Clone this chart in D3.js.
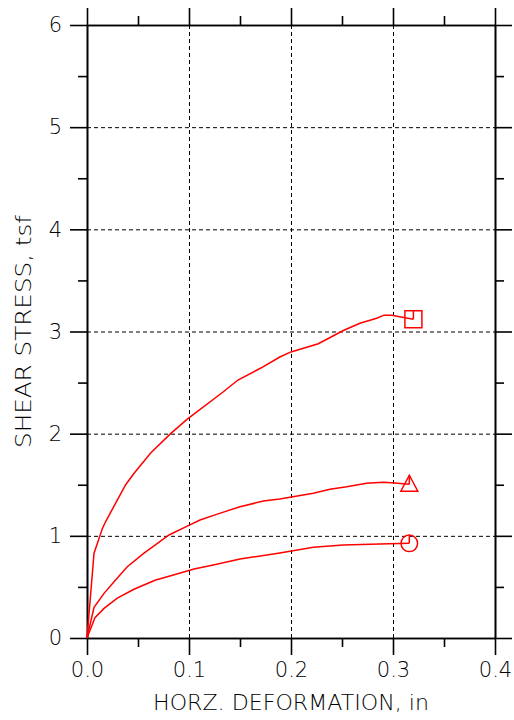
<!DOCTYPE html>
<html><head><meta charset="utf-8">
<script src="https://cdn.jsdelivr.net/npm/d3@7/dist/d3.min.js"></script>
<style>body{margin:0;background:#fff}</style>
</head><body>
<svg id="c" width="514" height="720"></svg>
<script>
// ---- data ----
const xTicks = [0.0, 0.1, 0.2, 0.3, 0.4];
const xMinor = [0.05, 0.15, 0.25, 0.35];
const yTicks = [0, 1, 2, 3, 4, 5, 6];
const yMinor = [0.5, 1.5, 2.5, 3.5, 4.5, 5.5];
const xLabel = "HORZ. DEFORMATION, in";
const yLabel = "SHEAR STRESS, tsf";

const sqX = [0, 0.0069, 0.015, 0.0183, 0.0297, 0.0379, 0.046, 0.0624, 0.082, 0.098, 0.1337, 0.148, 0.17, 0.189, 0.2, 0.2268, 0.2513, 0.2676, 0.284, 0.2912, 0.2987, 0.32];
const sqY = [0, 0.83, 1.07, 1.14, 1.35, 1.50, 1.61, 1.81, 2.0, 2.14, 2.41, 2.525, 2.64, 2.75, 2.80, 2.88, 3.01, 3.08, 3.13, 3.16, 3.16, 3.12];
const trX = [0, 0.0069, 0.0167, 0.028, 0.0395, 0.0559, 0.0804, 0.0993, 0.1108, 0.127, 0.15, 0.1729, 0.189, 0.2219, 0.2382, 0.2546, 0.274, 0.2905, 0.2987, 0.316];
const trY = [0, 0.30, 0.437, 0.568, 0.698, 0.83, 1.008, 1.10, 1.155, 1.21, 1.285, 1.34, 1.36, 1.416, 1.455, 1.48, 1.514, 1.524, 1.52, 1.505];
const ciX = [0, 0.0078, 0.0167, 0.0297, 0.046, 0.0673, 0.0787, 0.105, 0.1238, 0.15, 0.189, 0.2219, 0.2513, 0.287, 0.316];
const ciY = [0, 0.198, 0.29, 0.39, 0.477, 0.568, 0.60, 0.675, 0.714, 0.773, 0.832, 0.888, 0.91, 0.92, 0.927];

const series = [
  {xs: sqX, ys: sqY, sym: "square"},
  {xs: trX, ys: trY, sym: "triangle"},
  {xs: ciX, ys: ciY, sym: "circle"}
];

// ---- layout ----
const L = 87, T = 25, R = 495, B = 638;
const W = R - L, H = B - T;
const svg = d3.select("#c");
const x = d3.scaleLinear().domain([0, 0.4]).range([0, W]);
const y = d3.scaleLinear().domain([0, 6]).range([H, 0]);
const g = svg.append("g").attr("transform", `translate(${L},${T})`);
const FONT = "'DejaVu Sans', sans-serif";
const FW = 200;

// gridlines
g.append("g").attr("class", "grid").attr("transform", `translate(0,${H})`)
  .call(d3.axisBottom(x).tickValues(xTicks.slice(1, -1)).tickSize(-H).tickFormat(""));
g.append("g").attr("class", "grid")
  .call(d3.axisLeft(y).tickValues(yTicks.slice(1, -1)).tickSize(-W).tickFormat(""));
g.selectAll(".grid .domain").remove();
g.selectAll(".grid line").attr("stroke", "#000").attr("stroke-width", 1).attr("stroke-dasharray", "4,3");

// axes
const MAJ = 17, MIN = 9;
function styleAxis(sel) {
  sel.selectAll(".domain").attr("stroke", "#000").attr("stroke-width", 1.6);
  sel.selectAll("line").attr("stroke", "#000").attr("stroke-width", 1.6);
  sel.selectAll("text").attr("font-family", FONT).attr("font-weight", FW).attr("font-size", 21).attr("fill", "#000");
}
g.append("g").attr("transform", `translate(0,${H})`)
  .call(d3.axisBottom(x).tickValues(xTicks).tickSize(MAJ).tickSizeOuter(0).tickPadding(7).tickFormat(d3.format(".1f"))).call(styleAxis);
g.append("g").attr("transform", `translate(0,${H})`)
  .call(d3.axisBottom(x).tickValues(xMinor).tickSize(MIN).tickSizeOuter(0).tickFormat("")).call(styleAxis);
g.append("g")
  .call(d3.axisTop(x).tickValues(xTicks).tickSize(MAJ).tickSizeOuter(0).tickFormat("")).call(styleAxis);
g.append("g")
  .call(d3.axisTop(x).tickValues(xMinor).tickSize(MIN).tickSizeOuter(0).tickFormat("")).call(styleAxis);
g.append("g")
  .call(d3.axisLeft(y).tickValues(yTicks).tickSize(MAJ).tickSizeOuter(0).tickPadding(8).tickFormat(d3.format("d"))).call(styleAxis);
g.append("g")
  .call(d3.axisLeft(y).tickValues(yMinor).tickSize(MIN).tickSizeOuter(0).tickFormat("")).call(styleAxis);
g.append("g").attr("transform", `translate(${W},0)`)
  .call(d3.axisRight(y).tickValues(yTicks).tickSize(MAJ).tickSizeOuter(0).tickFormat("")).call(styleAxis);
g.append("g").attr("transform", `translate(${W},0)`)
  .call(d3.axisRight(y).tickValues(yMinor).tickSize(MIN).tickSizeOuter(0).tickFormat("")).call(styleAxis);

// curves
const line = d3.line().x(d => x(d[0])).y(d => y(d[1]));
series.forEach(s => {
  const pts = s.xs.map((v, i) => [v, s.ys[i]]);
  g.append("path").datum(pts).attr("d", line)
    .attr("fill", "none").attr("stroke", "#ff0000").attr("stroke-width", 1.5);
  const last = pts[pts.length - 1];
  const m = g.append("g").attr("transform", `translate(${x(last[0])},${y(last[1])})`)
    .attr("fill", "none").attr("stroke", "#ff0000").attr("stroke-width", 1.5);
  if (s.sym === "square") {
    m.append("rect").attr("x", -8.5).attr("y", -8.5).attr("width", 17).attr("height", 17);
    m.append("path").attr("d", "M0,0V-8.5");
  } else if (s.sym === "triangle") {
    m.append("path").attr("d", "M0,-9L8.5,7L-8.5,7Z");
    m.append("path").attr("d", "M0,0V-9");
  } else {
    m.append("circle").attr("r", 8.3);
    m.append("path").attr("d", "M0,0V-8.3");
  }
});

// axis titles
svg.append("text").attr("x", L + W / 2).attr("y", 710).attr("text-anchor", "middle")
  .attr("font-family", FONT).attr("font-weight", FW).attr("font-size", 21).attr("fill", "#000")
  .attr("textLength", 276).attr("lengthAdjust", "spacingAndGlyphs").text(xLabel);
svg.append("text").attr("transform", `translate(30.5,${T + H / 2}) rotate(-90)`).attr("text-anchor", "middle")
  .attr("font-family", FONT).attr("font-weight", FW).attr("font-size", 21).attr("fill", "#000")
  .attr("textLength", 233).attr("lengthAdjust", "spacingAndGlyphs").text(yLabel);
</script>
</body></html>
